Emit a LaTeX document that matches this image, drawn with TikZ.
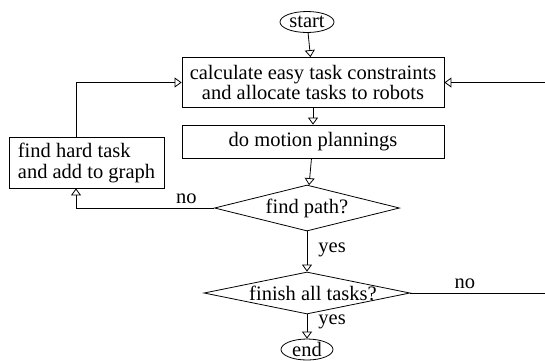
\documentclass[tikz,border=0pt]{standalone}
\usepackage{fontspec}
\setmainfont{Liberation Serif}
\usepackage{tikz}
\usetikzlibrary{arrows.meta}
\usetikzlibrary{positioning}
\usetikzlibrary{shapes.geometric}

\begin{document}
\begin{tikzpicture}
		[x=1pt,y=-1pt,line width=0.8pt,
		every node/.style={font=\fontsize{20.5}{20}\selectfont,inner sep=0pt},
		box/.style={draw,rectangle,align=center},
		decision/.style={draw,diamond,aspect=4.5},
		terminal/.style={draw,ellipse},
		flow/.style={-{Triangle[open,width=10pt,length=7pt]}},
		lbl/.style={inner sep=2pt}]
		\useasboundingbox (0,0) rectangle (545,360);
		\node[terminal,minimum width=54pt,minimum height=21pt] (start) at (307,22) {start};
		\node[box,minimum width=262pt,minimum height=50pt] (calc) at (313,82.5)
			{calculate easy task constraints\\and allocate tasks to robots};
		\node[box,minimum width=262pt,minimum height=33pt] (plan) at (313,141.5) {do motion plannings};
		\node[box,align=left,minimum width=155pt,minimum height=51pt,
			font=\fontsize{20.5}{21}\selectfont] (hard) at (86.5,162.5)
			{find hard task\\and add to graph};
		\node[decision,minimum width=185pt,minimum height=46pt] (path) at (307,208)
			{\makebox[0pt]{find path?}};
		\node[decision,minimum width=206pt,minimum height=42pt] (finish) at (307,293)
			{\makebox[0pt]{\hspace{12pt}finish all tasks?}};
		\node[terminal,minimum width=52pt,minimum height=21pt] (end) at (307,349.5) {end};
		\coordinate (rightturn) at (550,0);
		
		\foreach \from/\to in 
		{start/calc, calc/plan, plan/path}
		\draw[flow] (\from) -- (\to);
		\draw[flow] (path) -- node[lbl,right=9pt,pos=.47] {yes} (finish);
		\draw[flow] (finish) -- node[lbl,right=9pt,pos=.3] {yes} (end);
		\draw[flow] (path.west) -- node[lbl,above=2pt,pos=.2] {no} ([xshift=-10.5pt]hard.south |- path.west)
			-- ([xshift=-10.5pt]hard.south);
		\draw[flow] ([xshift=-10.5pt]hard.north) |- (calc.west);
		\draw[flow] (finish.east) -- node[lbl,above=2pt,pos=.39] {no} (finish.east -| rightturn)
			|- (calc.east);
		\end{tikzpicture}
\end{document}
